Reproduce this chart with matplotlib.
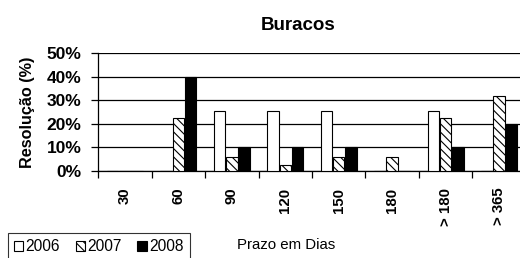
import matplotlib
matplotlib.use("Agg")
import matplotlib.pyplot as plt
import numpy as np

plt.rcParams['font.family'] = ['Liberation Sans', 'DejaVu Sans']
plt.rcParams['hatch.linewidth'] = 0.8

categories = ['30', '60', '90', '120', '150', '180', '> 180', '> 365']
years = ['2006', '2007', '2008']
res_2006 = [0, 0, 25.5, 25.5, 25.5, 0, 25.5, 0]
res_2007 = [0, 22.5, 6, 2.5, 6, 6, 22.5, 32]
res_2008 = [0, 40, 10, 10, 10, 0, 10, 20]

fig = plt.figure(figsize=(5.2, 2.58), dpi=100)
ax = fig.add_axes([0.1885, 0.337, 0.823, 0.457])

x = np.arange(len(categories))
w = 0.215
styles = [dict(color='white', hatch=None), dict(color='white', hatch='\\\\\\\\'),
          dict(color='black', hatch=None)]
for i, (vals, st, lab) in enumerate(zip([res_2006, res_2007, res_2008], styles, years)):
    ax.bar(x + (i - 1) * (w + 0.01), vals, w, color=st['color'], hatch=st['hatch'],
           edgecolor='black', linewidth=0.8, label=lab, zorder=3)

ax.set_xlim(-0.5, len(categories) - 0.5)
ax.set_ylim(0, 50)
ax.set_yticks(np.arange(0, 51, 10))
ax.set_yticklabels([f'{v}%' for v in range(0, 51, 10)], fontsize=12.5, fontweight='bold')
ax.yaxis.grid(True, color='black', linewidth=0.9)
ax.set_axisbelow(True)

ax.set_xticks(x)
ax.set_xticklabels(categories, rotation=90, fontsize=10.8, fontweight='bold')
ax.set_xticks(np.arange(-0.5, len(categories), 1), minor=True)
ax.tick_params(axis='x', which='major', length=0, pad=12)
ax.tick_params(axis='x', which='minor', length=5, direction='out', width=0.9)
ax.tick_params(axis='y', length=5, width=0.9, pad=7)

for s in ['top', 'right']:
    ax.spines[s].set_visible(False)
ax.spines['left'].set_linewidth(0.9)
ax.spines['bottom'].set_linewidth(0.9)

ax.set_ylabel('Resolução (%)', fontsize=11.7, fontweight='bold', labelpad=8)
fig.text(0.573, 0.9, 'Buracos', ha='center', va='center', fontsize=13.5, fontweight='bold')
fig.text(0.551, 0.05, 'Prazo em Dias', ha='center', va='center', fontsize=10.8)

leg = fig.legend(loc='lower left', bbox_to_anchor=(0.0, -0.04), ncol=3, fontsize=11.2,
                 frameon=True, fancybox=False, edgecolor='black', handlelength=0.6,
                 handleheight=0.6, handletextpad=0.15, columnspacing=1.0, borderpad=0.4)
leg.get_frame().set_linewidth(0.8)

fig.savefig('out.png', dpi=100)
